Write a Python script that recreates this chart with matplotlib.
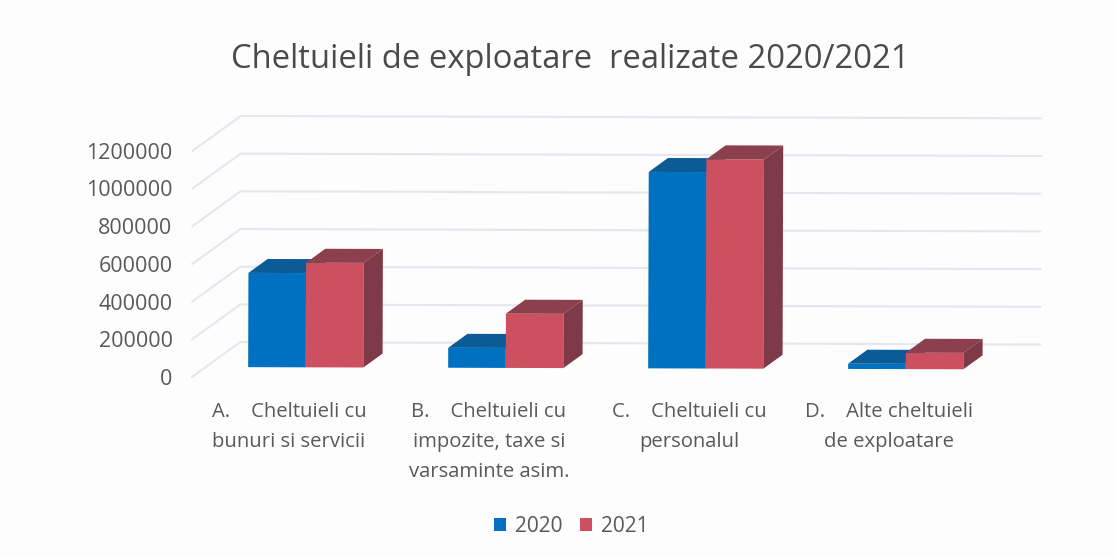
#!/usr/bin/env python3

import matplotlib
matplotlib.use("Agg")
import matplotlib.pyplot as plt
from matplotlib.patches import Polygon, Patch
from matplotlib.transforms import Affine2D

# Values
categories = [
    "A.    Cheltuieli cu\nbunuri si servicii",
    "B.    Cheltuieli cu\nimpozite, taxe si\nvarsaminte asim.",
    "C.    Cheltuieli cu\npersonalul",
    "D.    Alte cheltuieli\nde exploatare",
]
values_2020 = [500000, 106000, 1042000, 28000]
values_2021 = [555000, 288000, 1110000, 87000]
series_names = ["2020", "2021"]
y_ticks = [0, 200000, 400000, 600000, 800000, 1000000, 1200000]
title = "Cheltuieli de exploatare  realizate 2020/2021"

plt.rcParams["font.family"] = ["Open Sans", "DejaVu Sans"]

W, H = 1117, 558
BG = "#fdfdfd"
TEXT = "#595959"
GRID = "#e6e6ee"
COLORS = [
    {"front": "#0070c0", "top": "#0b5c96", "side": "#0b5c96"},
    {"front": "#cc5060", "top": "#8c404e", "side": "#7e3a48"},
]

fig = plt.figure(figsize=(W / 100, H / 100), dpi=100, facecolor=BG)
ax = fig.add_axes([192 / W, (H - 377) / H, 800 / W, 277 / H])
ax.set_facecolor("none")
ax.set_xlim(-0.5, 3.5)
ax.set_ylim(0, 277 * 200000 / 37.7)

# oblique depth: depth 1 is the back wall
DX = 0.24
DY = 35 * 200000 / 37.7
BAR_W = 0.288
D0, D1 = 0.286, 0.686

# the page was scanned slightly crooked
tilted = ax.transData + Affine2D().rotate_deg_around(192, H - 377, -0.17)


def draw_grid():
    for v in y_ticks:
        ax.plot([-0.5, -0.5 + DX, 3.5 + DX], [v, v + DY, v + DY], color=GRID, lw=1.5,
                transform=tilted, clip_on=False, zorder=1, solid_joinstyle="miter")


def draw_bar(x, v, colors, z):
    xs = x + D0 * DX
    base = D0 * DY
    ddx = (D1 - D0) * DX
    ddy = (D1 - D0) * DY
    rect = ax.bar(xs, v, BAR_W, bottom=base, align="edge", color=colors["front"],
                  zorder=z, clip_on=False)[0]
    rect.set_transform(tilted)
    top = [(xs, base + v), (xs + BAR_W, base + v),
           (xs + BAR_W + ddx, base + v + ddy), (xs + ddx, base + v + ddy)]
    side = [(xs + BAR_W, base), (xs + BAR_W + ddx, base + ddy),
            (xs + BAR_W + ddx, base + v + ddy), (xs + BAR_W, base + v)]
    ax.add_patch(Polygon(top, closed=True, fc=colors["top"], ec="none", zorder=z,
                         transform=tilted, clip_on=False))
    ax.add_patch(Polygon(side, closed=True, fc=colors["side"], ec="none", zorder=z,
                         transform=tilted, clip_on=False))


draw_grid()
for i in range(len(categories)):
    draw_bar(i - BAR_W, values_2020[i], COLORS[0], 2)
    draw_bar(i, values_2021[i], COLORS[1], 3)

for s in ax.spines.values():
    s.set_visible(False)
ax.set_yticks(y_ticks)
ax.set_yticklabels([str(v) for v in y_ticks])
ax.set_xticks([i - 0.015 for i in range(len(categories))])
ax.set_xticklabels(categories, linespacing=1.68, multialignment="center")
ax.tick_params(axis="y", length=0, pad=14, labelsize=15.5, labelcolor=TEXT)
ax.tick_params(axis="x", length=0, pad=18, labelsize=14.6, labelcolor=TEXT)

fig.text(570 / W, 1 - 59 / H, title, ha="center", va="center", fontsize=23.6, color="#4a4a4a")

handles = [Patch(fc=COLORS[k]["front"], ec="none", label=series_names[k]) for k in range(2)]
fig.legend(handles=handles, loc="center", bbox_to_anchor=(571 / W, 1 - 526 / H), ncol=2,
           frameon=False, fontsize=15, labelcolor=TEXT, handlelength=0.6, handleheight=0.6,
           handletextpad=0.4, columnspacing=0.85)

fig.savefig("out.png", dpi=100, facecolor=BG)
